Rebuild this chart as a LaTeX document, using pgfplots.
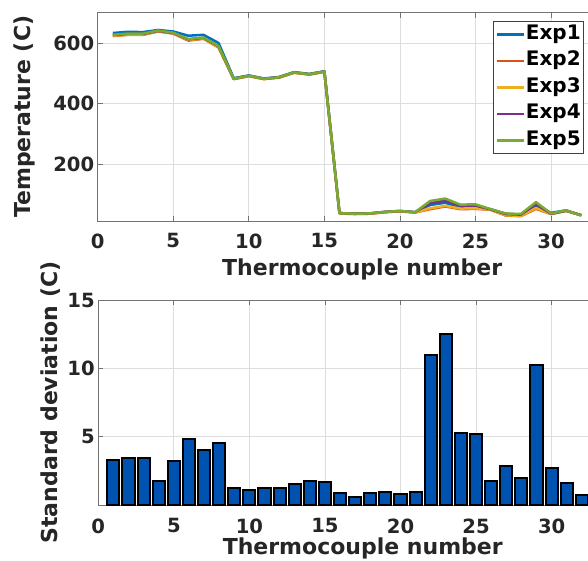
\documentclass[border=0pt]{standalone}
\usepackage{pgfplots}
\usepackage{pgfplotstable}
\pgfplotsset{compat=1.18}
\usepackage{fontspec}
\setmainfont{DejaVu Sans}
\definecolor{c1}{rgb}{0,0.447,0.741}
\definecolor{c2}{rgb}{0.85,0.325,0.098}
\definecolor{c3}{rgb}{0.929,0.694,0.125}
\definecolor{c4}{rgb}{0.494,0.184,0.556}
\definecolor{c5}{rgb}{0.466,0.674,0.188}
\definecolor{barblue}{RGB}{0,82,176}
\pgfplotstableread{
x  e1  e2  e3  e4  e5
1  633 623 624 626 627
2  637 627 628 630 631
3  636 627 628 630 631
4  643 638 639 640 641
5  638 631 632 633 634
6  624 608 610 612 613
7  627 614 615 617 618
8  600 585 586 589 590
9  484 481 481 482 482
10 493 491 491 492 492
11 483 481 481 482 482
12 488 486 486 487 487
13 504 502 502 503 503
14 498 496 496 497 497
15 507 505 505 506 506
16 39  38  38  39  39
17 37  36  36  37  37
18 38  37  37  38  38
19 43  42  42  43  43
20 46  45  45  46  46
21 42  41  41  42  42
22 66  52  55  72  79
23 73  61  63  80  87
24 58  52  54  63  67
25 60  53  55  64  68
26 52  50  50  51  52
27 36  31  32  36  38
28 33  29  30  34  36
29 62  53  56  68  75
30 40  36  36  37  38
31 48  46  47  47  48
32 32  32  32  32  31
}\tempdata
\pgfplotstableread{
x  sd
1  3.30
2  3.47
3  3.42
4  1.75
5  3.21
6  4.83
7  4.03
8  4.54
9  1.21
10 1.09
11 1.28
12 1.21
13 1.53
14 1.72
15 1.68
16 0.85
17 0.61
18 0.85
19 0.92
20 0.78
21 0.92
22 10.95
23 12.50
24 5.25
25 5.17
26 1.72
27 2.84
28 1.97
29 10.28
30 2.72
31 1.60
32 0.75
}\sddata
\pgfplotsset{
  mystyle/.style={
    scale only axis, width=528.9pt,
    xmin=0, xmax=35, xtick={0,5,...,30},
    tick align=inside, major tick length=5pt,
    grid=major, grid style={line width=0.8pt, color=black!13},
    axis line style={line width=0.8pt, color=black!55},
    tick style={line width=0.8pt, color=black!55},
    tick label style={font=\fontsize{19.6}{20}\selectfont\bfseries, text=black!85},
    label style={font=\fontsize{22}{24}\selectfont\bfseries, text=black!85},
    /pgf/number format/assume math mode=true,
    /pgf/number format/1000 sep={},
  }
}
\begin{document}
\begin{tikzpicture}
\path[use as bounding box] (0,0) rectangle (588pt,560pt);
\clip (0,0) rectangle (588pt,560pt);
\begin{axis}[mystyle,
  at={(97.7pt,339pt)}, anchor=south west, height=208.3pt,
  ymin=13, ymax=700, ytick={200,400,600},
  xticklabel shift=9pt, xlabel shift=4pt, ylabel shift=11pt,
  xlabel={Thermocouple number}, ylabel={Temperature (C)},
  legend style={at={(axis description cs:0.7474,0.960)}, anchor=north west,
    draw=black!75, line width=0.8pt, fill=white, inner sep=2pt,
    font=\fontsize{20}{22}\selectfont\bfseries, row sep=4.5pt,
    nodes={text height=15pt, text depth=5pt, inner sep=1pt}},
  legend cell align=left,
  legend image code/.code={\draw[#1] (0pt,0pt) -- (27pt,0pt);},
]
\addplot[c1, line width=2.5pt, line join=round] table[x=x,y=e1] {\tempdata};
\addplot[c2, line width=2.5pt, line join=round] table[x=x,y=e2] {\tempdata};
\addplot[c3, line width=2.5pt, line join=round] table[x=x,y=e3] {\tempdata};
\addplot[c4, line width=2.5pt, line join=round] table[x=x,y=e4] {\tempdata};
\addplot[c5, line width=2.5pt, line join=round] table[x=x,y=e5] {\tempdata};
\legend{Exp1,Exp2,Exp3,Exp4,Exp5}
\end{axis}
\begin{axis}[mystyle,
  at={(98.3pt,55pt)}, anchor=south west, height=205pt,
  ymin=0, ymax=15, ytick={5,10,15},
  xticklabel shift=10pt, xlabel shift=-2.5pt,
  xlabel={Thermocouple number}, ylabel={Standard deviation (C)},
]
\addplot[ybar, bar width=0.8, fill=barblue, draw=black, line width=2pt] table[x=x,y=sd] {\sddata};
\end{axis}
\end{tikzpicture}
\end{document}
